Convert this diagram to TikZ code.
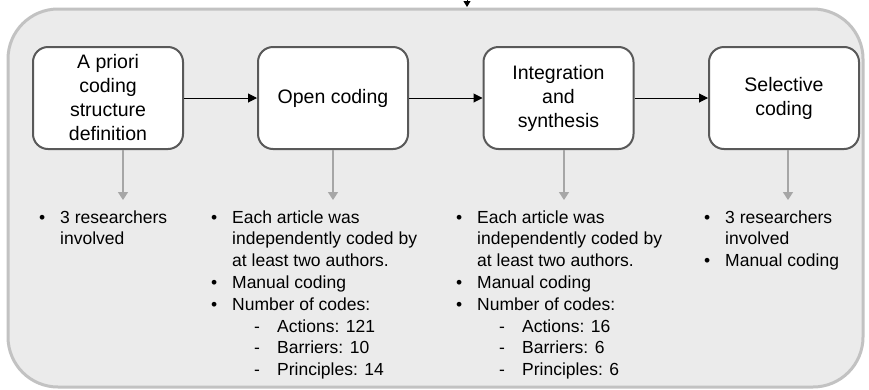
\documentclass[tikz,border=0pt]{standalone}
\usepackage{fontspec}
\setmainfont{Liberation Sans}
\usetikzlibrary{arrows.meta}
\definecolor{panelfill}{HTML}{EBEBEB}
\definecolor{panelline}{HTML}{C2C2C2}
\definecolor{boxline}{HTML}{595959}
\definecolor{downarrow}{HTML}{A6A6A6}
\newcommand{\bul}{\makebox[21pt][l]{\textbullet}}
\newcommand{\ind}{\hspace*{21pt}}
\newcommand{\sub}{\hspace*{43pt}\makebox[23pt][l]{-}}
\newenvironment{notelist}{\begin{tabular}[t]{@{}l@{}}}{\end{tabular}}
\begin{document}
\begin{tikzpicture}[x=1pt,y=-1pt,
  stage/.style={draw=boxline, line width=2pt, fill=white, rounded corners=15pt,
    minimum width=150pt, minimum height=102pt, inner sep=0pt, align=center,
    font=\fontsize{19.5}{24}\selectfont},
  flow/.style={line width=1pt, -{Triangle[length=9pt,width=9pt]}},
  detail/.style={draw=downarrow, line width=1.5pt, -{Triangle[length=8pt,width=10pt]}},
  notes/.style={anchor=base west, inner sep=0pt,
    font=\fontsize{17.5}{21.8}\selectfont}]
\useasboundingbox (0,0) rectangle (869,389);

% outer panel
\draw[panelline, fill=panelfill, line width=3pt, rounded corners=50pt]
  (8,9) rectangle (863,387);

% incoming arrow from above
\coordinate (in0) at (467,-12);
\coordinate (in1) at (467,7);
\draw[line width=1pt, -{Triangle[length=6pt,width=7pt]}] (in0) -- (in1);

% the four stages
\node[stage] (b1) at (108,98) {A priori\\coding\\structure\\definition};
\node[stage] (b2) at (333,98) {Open coding};
\node[stage] (b3) at (558.5,98) {Integration\\and\\synthesis};
\node[stage] (b4) at (784,98) {Selective\\coding};

\draw[flow] (b1) -- (b2);
\draw[flow] (b2) -- (b3);
\draw[flow] (b3) -- (b4);

% arrows down to the notes
\coordinate (d1) at (123,200);
\coordinate (d2) at (333,200);
\coordinate (d3) at (564,200);
\coordinate (d4) at (788,200);
\draw[detail] (d1 |- b1.south) -- (d1);
\draw[detail] (d2 |- b2.south) -- (d2);
\draw[detail] (d3 |- b3.south) -- (d3);
\draw[detail] (d4 |- b4.south) -- (d4);

% notes under each stage
\node[notes] (t1) at (39,223) {\begin{notelist}
  \bul 3 researchers\\
  \ind involved
\end{notelist}};
\node[notes] (t2) at (211,223) {\begin{notelist}
  \bul Each article was\\
  \ind independently coded by\\
  \ind at least two authors.\\
  \bul Manual coding\\
  \bul Number of codes:\\
  \sub Actions: 121\\
  \sub Barriers: 10\\
  \sub Principles: 14
\end{notelist}};
\node[notes] (t3) at (456,223) {\begin{notelist}
  \bul Each article was\\
  \ind independently coded by\\
  \ind at least two authors.\\
  \bul Manual coding\\
  \bul Number of codes:\\
  \sub Actions: 16\\
  \sub Barriers: 6\\
  \sub Principles: 6
\end{notelist}};
\node[notes] (t4) at (704,223) {\begin{notelist}
  \bul 3 researchers\\
  \ind involved\\
  \bul Manual coding
\end{notelist}};
\end{tikzpicture}
\end{document}
